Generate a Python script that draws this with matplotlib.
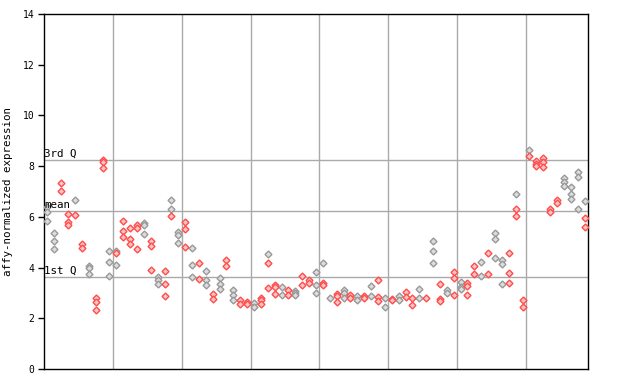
import matplotlib
matplotlib.use("Agg")
import matplotlib.pyplot as plt

# sample index (column) -> replicate values; group code per value ('g' gray, 'r' red)
sample_values = [
    [6.40, 6.18, 5.82], [5.35, 5.05, 4.73], [7.32, 7.02], [6.10, 5.80, 5.66],
    [6.66, 6.07], [4.93, 4.76], [4.06, 3.98, 3.73], [2.81, 2.63, 2.33],
    [8.24, 8.15, 7.91], [4.64, 4.21, 3.66], [4.64, 4.56, 4.09], [5.84, 5.44, 5.19],
    [5.55, 5.13, 4.92], [5.67, 5.56, 4.72], [5.76, 5.67, 5.31], [5.05, 4.86, 3.89],
    [3.64, 3.50, 3.34], [3.85, 3.34, 2.87], [6.65, 6.30, 6.02], [5.39, 5.27, 4.96],
    [5.78, 5.51, 4.81], [4.76, 4.09, 3.62], [4.17, 3.56], [3.85, 3.50, 3.30],
    [2.94, 2.77], [3.58, 3.34, 3.14], [4.28, 4.05], [3.12, 2.93, 2.71],
    [2.71, 2.58], [2.64, 2.58], [2.60, 2.43], [2.81, 2.72, 2.58],
    [4.52, 4.17, 3.18], [3.31, 3.23, 2.94], [3.22, 2.91], [3.10, 2.91],
    [3.08, 3.01, 2.93], [3.66, 3.30], [3.51, 3.38], [3.82, 3.30, 2.99],
    [4.18, 3.40, 3.30], [2.79], [2.94, 2.87, 2.63], [3.10, 2.98, 2.80],
    [2.91, 2.79], [2.87, 2.71], [2.87, 2.79], [3.26, 2.87],
    [3.50, 2.83, 2.67], [2.79, 2.43], [2.77, 2.71], [2.87, 2.71],
    [3.02, 2.83], [2.81, 2.51], [3.14, 2.79], [2.79, 2.75],
    [5.03, 4.64, 4.17], [3.34, 2.75, 2.67], [3.10, 2.98], [3.82, 3.58, 2.91],
    [3.42, 3.23, 3.14], [3.38, 3.26, 2.91], [4.05, 3.73], [4.21, 3.66],
    [4.56, 3.73], [5.35, 5.11, 4.36], [4.28, 4.13, 3.34], [4.56, 3.77, 3.38],
    [6.89, 6.30, 6.02], [2.71, 2.46], [8.62, 8.41], [8.19, 8.07, 8.00],
    [8.32, 8.15, 7.98], [6.32, 6.18], [6.68, 6.53], [7.52, 7.36, 7.20],
    [7.16, 6.89, 6.69], [7.75, 7.58, 6.32], [6.61, 5.94, 5.61],
]
sample_groups = [
    "ggg", "ggg", "rr", "rrr", "gr", "rr", "ggg", "rrr",
    "rrr", "ggg", "grg", "rrr", "rrr", "rrr", "ggg", "rrr",
    "ggg", "rrr", "ggr", "ggg", "rrr", "ggg", "rr", "ggg",
    "rr", "ggg", "rr", "ggg", "rr", "rr", "gg", "rrr",
    "grr", "rrr", "gg", "rr", "ggg", "rr", "rr", "ggg",
    "grr", "g", "rrr", "ggg", "rr", "gg", "rr", "gg",
    "rrr", "gg", "rr", "gg", "rr", "rr", "gg", "r",
    "ggg", "rrr", "gg", "rrr", "ggg", "rrr", "rr", "gg",
    "rr", "ggg", "ggg", "rrr", "grr", "rr", "gr", "rrr",
    "rrr", "rr", "rr", "ggg", "ggg", "ggg", "grr",
]
q1, mean_val, q3 = 3.62, 6.22, 8.23
ref_labels = ["1st Q", "mean", "3rd Q"]
y_ticks = [0, 2, 4, 6, 8, 10, 12, 14]
group_size = 10

edge_colors = {"g": "#999999", "r": "#ff4d4d"}
face_colors = {"g": "#dddddd", "r": "#ffc4c4"}

fig = plt.figure(figsize=(6.4, 3.84), dpi=100)
ax = fig.add_axes([44 / 640, 15 / 384, 544 / 640, 355 / 384])

n = len(sample_values)
for code in "gr":
    xs, ys = [], []
    for i, (vals, grp) in enumerate(zip(sample_values, sample_groups)):
        for v, g in zip(vals, grp):
            if g == code:
                xs.append(i)
                ys.append(v)
    ax.plot(xs, ys, linestyle="none", marker="D", markersize=3.5,
            markerfacecolor=face_colors[code], markeredgecolor=edge_colors[code],
            markeredgewidth=1.0, zorder=3)

ax.set_xlim(-0.5, n - 0.5)
ax.set_ylim(0, 14)

for k in range(group_size, n, group_size):
    ax.axvline(k - 0.5, color="#aaaaaa", linewidth=1.0, zorder=1)
for val, lab in zip([q1, mean_val, q3], ref_labels):
    ax.axhline(val, color="#aaaaaa", linewidth=1.0, zorder=1)
    ax.text(-0.45, val + 0.06, lab, fontsize=7.8, family="DejaVu Sans Mono",
            ha="left", va="bottom", zorder=4)

ax.set_xticks([])
ax.set_yticks(y_ticks)
ax.set_yticklabels([str(t) for t in y_ticks], fontsize=7, family="DejaVu Sans Mono")
ax.set_yticks([4, 6, 8], minor=True)
ax.tick_params(axis="y", which="major", direction="out", length=4, width=1,
               left=True, right=False, pad=3)
ax.tick_params(axis="y", which="minor", direction="in", length=4, width=1,
               left=True, right=True)
ax.set_ylabel("affy-normalized expression", fontsize=7.8, family="DejaVu Sans Mono",
              labelpad=7)
for s in ax.spines.values():
    s.set_color("black")
    s.set_linewidth(1.0)

fig.savefig("out.png", dpi=100)
